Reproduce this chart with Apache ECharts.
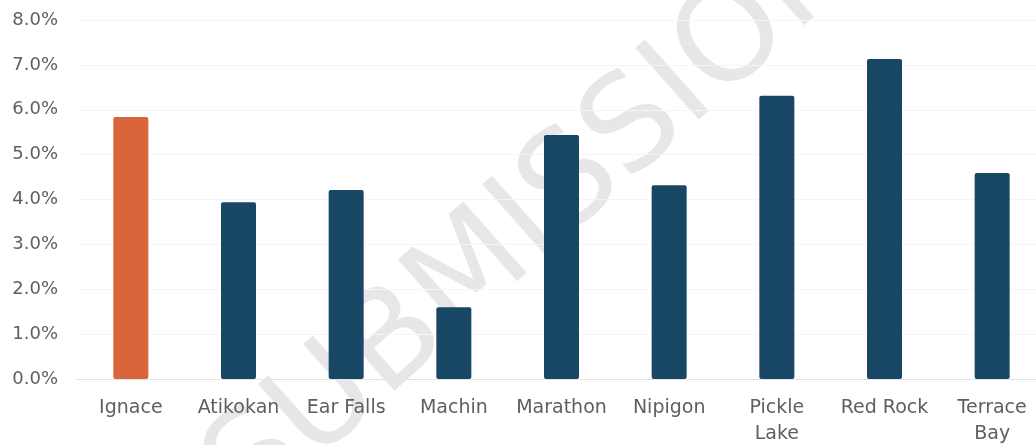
<!DOCTYPE html>
<html>
<head>
<meta charset="utf-8">
<title>Vacancy rate by community</title>
<script src="https://cdn.jsdelivr.net/npm/echarts@6/dist/echarts.min.js"></script>
<style>
  html, body { margin: 0; padding: 0; background: #ffffff; }
  #chart { width: 1036px; height: 445px; }
</style>
</head>
<body>
<div id="chart"></div>
<script>
// Communities along the x axis (two-word names wrap onto a second line)
const categories = ['Ignace', 'Atikokan', 'Ear Falls', 'Machin', 'Marathon', 'Nipigon', 'Pickle\nLake', 'Red Rock', 'Terrace\nBay'];
// Rate per community, in percent
const rates = [5.84, 3.94, 4.21, 1.60, 5.44, 4.32, 6.31, 7.13, 4.59];
// Community drawn in the highlight colour
const highlighted = 'Ignace';
// Value axis range and step, in percent
const yMin = 0;
const yMax = 8;
const yStep = 1;

const ORANGE = '#D8663A';
const NAVY = '#174764';
const TEXT = '#5f5f5f';

const chart = echarts.init(document.getElementById('chart'), null, { renderer: 'canvas' });

chart.setOption({
  backgroundColor: '#ffffff',
  animation: false,
  grid: {
    left: 77,
    right: -10,
    top: 20,
    bottom: 66,
    containLabel: false,
    outerBoundsMode: 'none'
  },
  // Faint diagonal stamp on the bottom layer, behind axes and bars
  graphic: [{
    type: 'text',
    zlevel: 0,
    z: 0,
    x: 537,
    y: 218,
    rotation: 41.7 * Math.PI / 180,
    silent: true,
    style: {
      text: 'SUBMISSION',
      fontFamily: 'DejaVu Sans',
      fontSize: 131,
      fill: '#e7e7e9',
      align: 'center',
      verticalAlign: 'middle'
    }
  }],
  xAxis: {
    type: 'category',
    data: categories,
    zlevel: 1,
    axisLine: { show: true, lineStyle: { color: '#e3e3e3', width: 1 } },
    axisTick: { show: false },
    axisLabel: {
      color: TEXT,
      fontFamily: 'DejaVu Sans',
      fontSize: 19,
      lineHeight: 26,
      margin: 16,
      interval: 0
    }
  },
  yAxis: {
    type: 'value',
    min: yMin,
    max: yMax,
    interval: yStep,
    zlevel: 1,
    axisLine: { show: false },
    axisTick: { show: false },
    splitLine: { show: true, lineStyle: { color: '#f5f5f5', width: 1 } },
    axisLabel: {
      color: TEXT,
      fontFamily: 'DejaVu Sans',
      fontSize: 18,
      margin: 19,
      formatter: v => v.toFixed(1) + '%'
    }
  },
  series: [{
    type: 'bar',
    zlevel: 1,
    z: 2,
    barWidth: 35,
    data: rates.map((v, i) => ({
      value: v,
      itemStyle: { color: categories[i] === highlighted ? ORANGE : NAVY }
    })),
    itemStyle: { borderRadius: 2 }
  }]
});
</script>
</body>
</html>
